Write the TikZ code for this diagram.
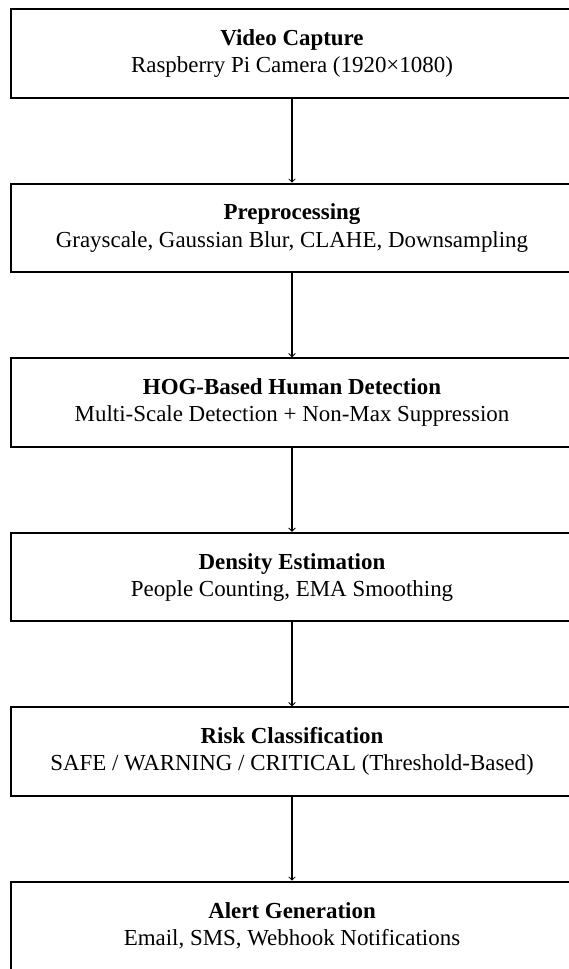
\documentclass[tikz,border=0pt]{standalone}
\usepackage{fontspec}
\setmainfont{Liberation Serif}
\usetikzlibrary{arrows.meta,positioning}

\begin{document}
\begin{tikzpicture}[
  every node/.style={font=\fontsize{17.2}{20.3}\selectfont},
  stage/.style={draw, line width=1.5pt, minimum width=421.5pt, minimum height=66.4pt, inner sep=0pt, align=center},
  flow/.style={line width=1.3pt, -{Straight Barb[length=2.5pt,width=5pt,line width=0.6pt]}}
]
  \useasboundingbox (0,0) rectangle (426pt,-726.75pt);
  % blocchi della pipeline
  \node[stage] (cap)   at (219pt,-40.2pt)  {\textbf{Video Capture}\\Raspberry Pi Camera (1920×1080)};
  \node[stage] (prep)  at (219pt,-171.0pt) {\textbf{Preprocessing}\\Grayscale, Gaussian Blur, CLAHE, Downsampling};
  \node[stage] (hog)   at (219pt,-301.9pt) {\textbf{HOG-Based Human Detection}\\Multi-Scale Detection + Non-Max Suppression};
  \node[stage] (dens)  at (219pt,-432.8pt) {\textbf{Density Estimation}\\People Counting, EMA Smoothing};
  \node[stage] (risk)  at (219pt,-563.7pt) {\textbf{Risk Classification}\\SAFE / WARNING / CRITICAL (Threshold-Based)};
  \node[stage] (alert) at (219pt,-694.5pt) {\textbf{Alert Generation}\\Email, SMS, Webhook Notifications};
  % frecce
  \draw[flow] (cap) -- (prep);
  \draw[flow] (prep) -- (hog);
  \draw[flow] (hog) -- (dens);
  \draw[flow] (dens) -- (risk);
  \draw[flow] (risk) -- (alert);
\end{tikzpicture}
\end{document}
